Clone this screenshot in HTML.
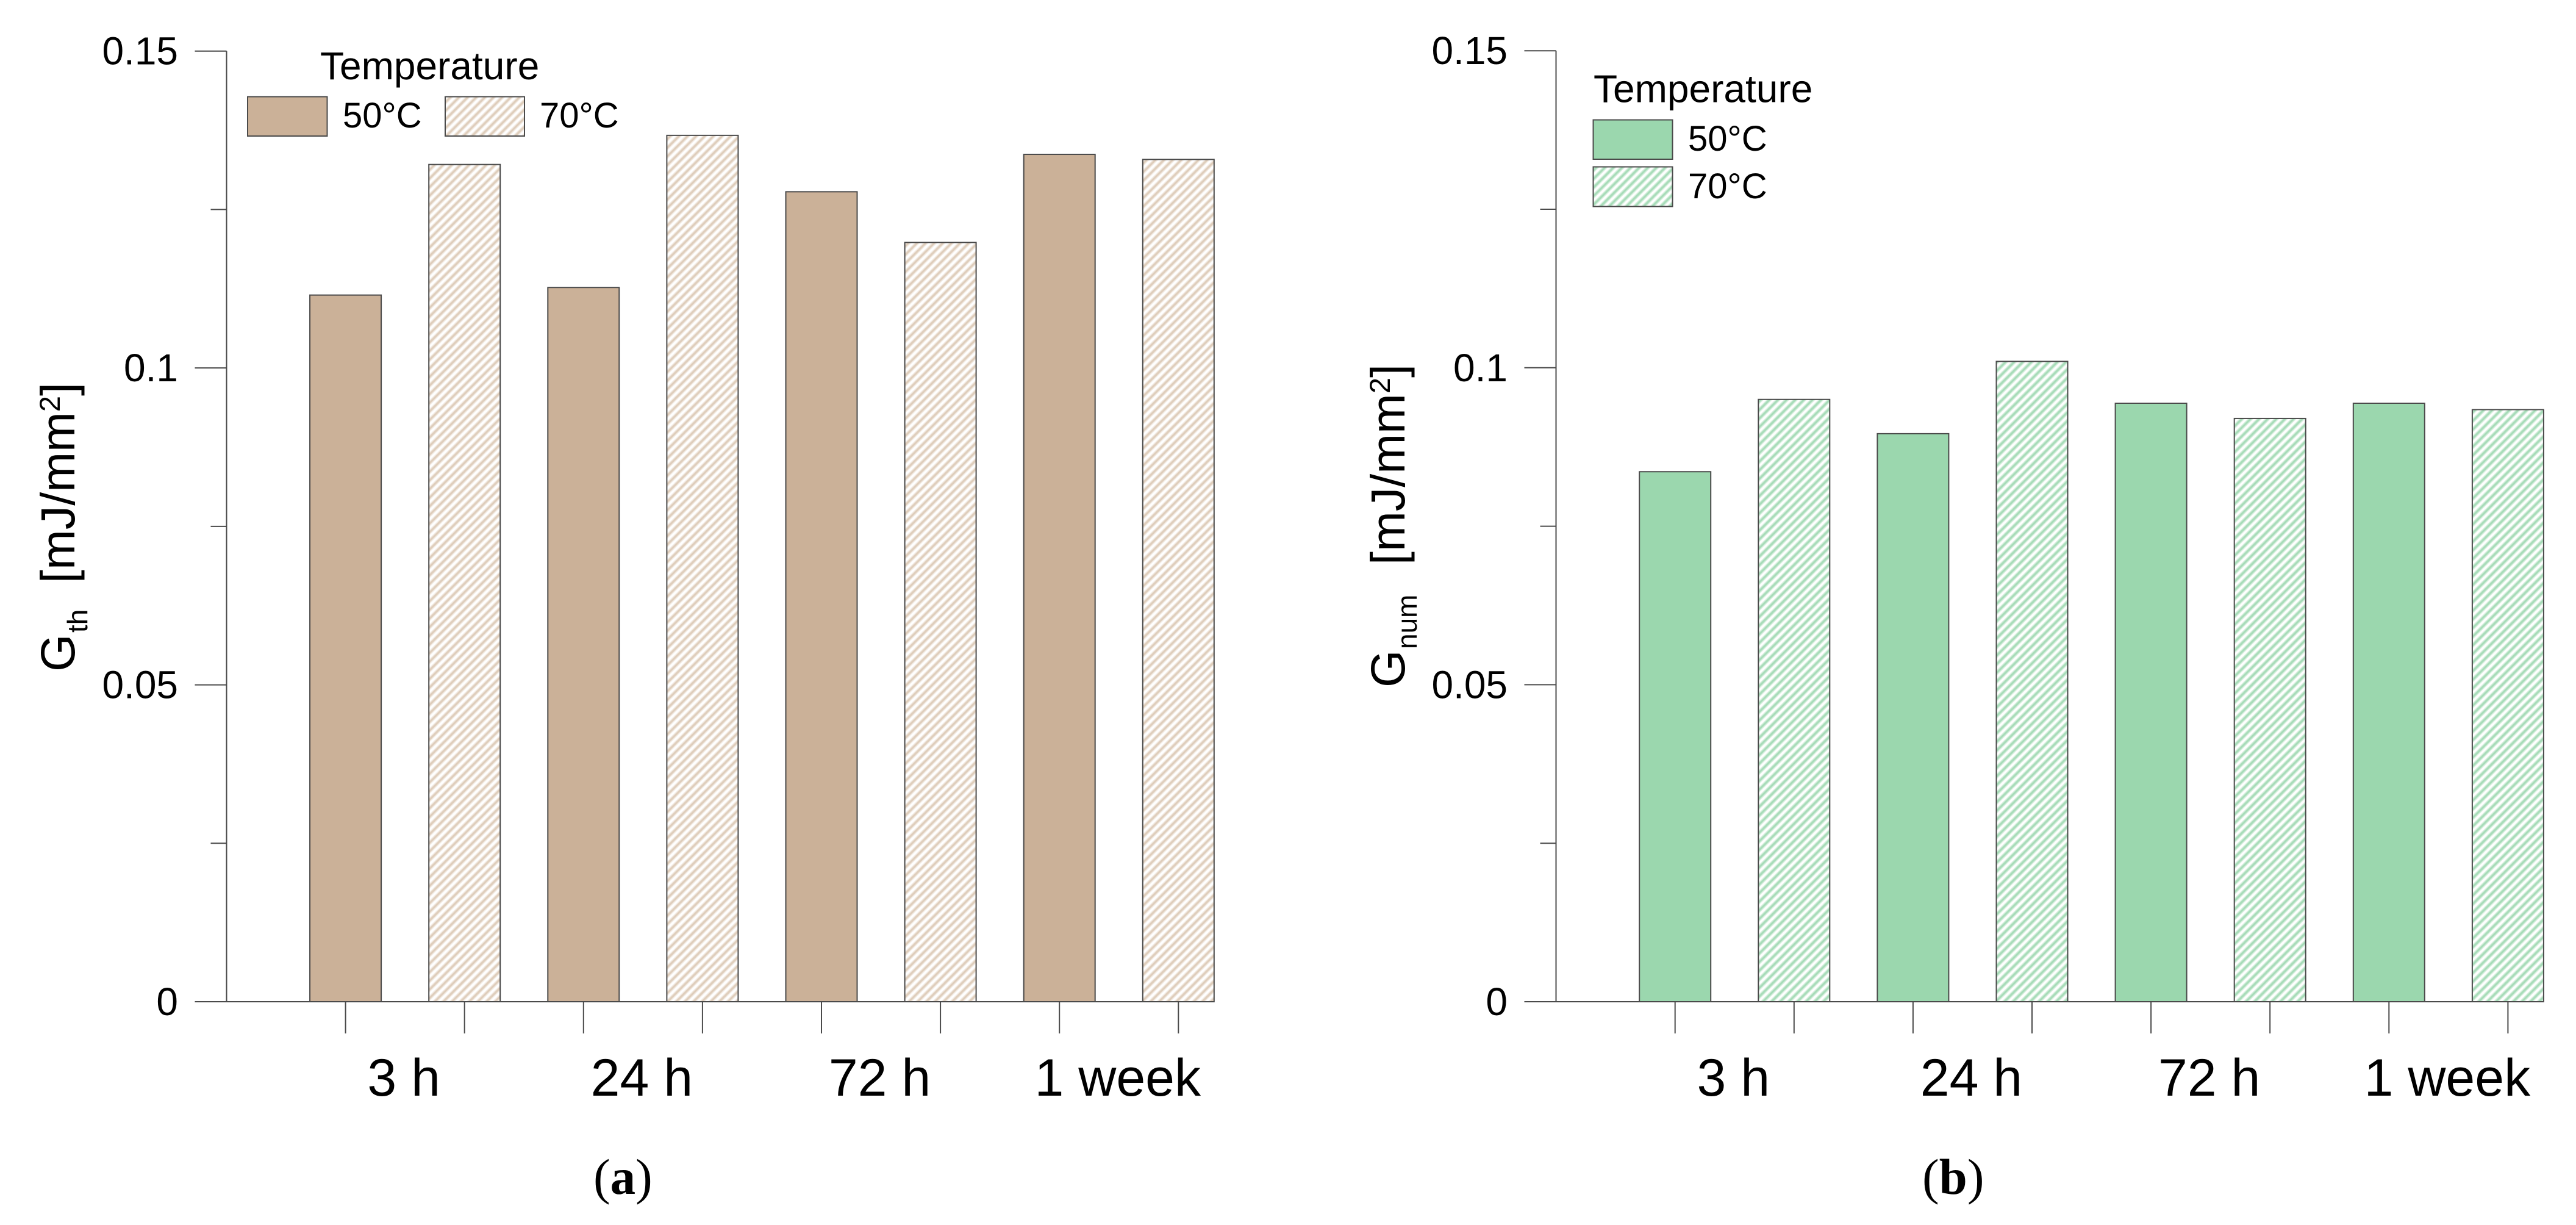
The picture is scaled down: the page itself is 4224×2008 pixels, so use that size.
<!DOCTYPE html>
<html lang="en">
<head>
<meta charset="utf-8">
<title>Fracture energy bar charts</title>
<style>
html,body{margin:0;padding:0;background:#fff;width:4224px;height:2008px;overflow:hidden}
svg{display:block}
text{font-family:"Liberation Sans",Arial,sans-serif;fill:#000}
.tick{font-size:64px}
.cat{font-size:86px}
.leg{font-size:64px}
.legval{font-size:58px}
.cap{font-family:"Liberation Serif","Times New Roman",serif;font-size:83px}
.ytitle{font-size:79px}
.ysub{font-size:46px}
</style>
</head>
<body>
<svg id="figure" xmlns="http://www.w3.org/2000/svg" width="4224" height="2008" viewBox="0 0 4224 2008">
  <defs>
    <pattern id="hatch-tan" patternUnits="userSpaceOnUse" width="10" height="10" patternTransform="rotate(-45)">
      <rect width="10" height="10" fill="#ffffff"/>
      <rect y="1.8" width="10" height="6.4" fill="#f2eae2"/>
      <rect y="3.4" width="10" height="3.2" fill="#dfcebc"/>
    </pattern>
    <pattern id="hatch-green" patternUnits="userSpaceOnUse" width="10" height="10" patternTransform="rotate(-45)">
      <rect width="10" height="10" fill="#ffffff"/>
      <rect y="1.8" width="10" height="6.4" fill="#d5efdd"/>
      <rect y="3.4" width="10" height="3.2" fill="#a8dcb9"/>
    </pattern>
  </defs>

  <g id="panel-a">
    <text class="ytitle" transform="translate(122 1101) rotate(-90)">G</text>
    <text class="ysub" transform="translate(143 1037) rotate(-90)">th</text>
    <text class="ytitle" transform="translate(122 956) rotate(-90)">[mJ/mm<tspan font-size="47" dy="-24">2</tspan><tspan dy="24">]</tspan></text>
    <g>
      <text class="leg" x="525" y="130">Temperature</text>
      <rect x="406" y="158.5" width="130.5" height="64.5" fill="#cbb198" stroke="#4a4a4a" stroke-width="2"/>
      <text class="legval" x="562" y="209">50°C</text>
      <rect x="730" y="158.5" width="130" height="64.5" fill="url(#hatch-tan)" stroke="#4a4a4a" stroke-width="2"/>
      <text class="legval" x="885" y="209">70°C</text>
    </g>
    <text class="cap" x="973" y="1957">(<tspan font-weight="bold">a</tspan>)</text>
  </g>

  <g id="panel-b">
    <text class="ytitle" transform="translate(2303 1127) rotate(-90)">G</text>
    <text class="ysub" transform="translate(2323 1064) rotate(-90)">num</text>
    <text class="ytitle" transform="translate(2303 926) rotate(-90)">[mJ/mm<tspan font-size="47" dy="-24">2</tspan><tspan dy="24">]</tspan></text>
    <g>
      <text class="leg" x="2613" y="167.5">Temperature</text>
      <rect x="2612.5" y="196.5" width="130" height="64.5" fill="#9bd7ae" stroke="#4a4a4a" stroke-width="2"/>
      <text class="legval" x="2768" y="247">50°C</text>
      <rect x="2612.5" y="273.5" width="130" height="65" fill="url(#hatch-green)" stroke="#4a4a4a" stroke-width="2"/>
      <text class="legval" x="2768" y="325">70°C</text>
    </g>
    <text class="cap" x="3152" y="1957">(<tspan font-weight="bold">b</tspan>)</text>
  </g>
</svg>
<script>
var categories = ["3 h", "24 h", "72 h", "1 week"];
var gthFifty = [0.1115, 0.1127, 0.1278, 0.1337];
var gthSeventy = [0.1321, 0.1367, 0.1198, 0.1329];
var gnumFifty = [0.0836, 0.0896, 0.0944, 0.0944];
var gnumSeventy = [0.0950, 0.1010, 0.0920, 0.0934];
var majorTicks = [0, 0.05, 0.1, 0.15];
var majorTickLabels = ["0", "0.05", "0.1", "0.15"];
var minorTicks = [0.025, 0.075, 0.125];

var NS = "http://www.w3.org/2000/svg";
var AXIS_COLOR = "#4a4a4a";

function yScale(value, top) {
  var base = 1642;
  return base - (value / 0.15) * (base - top);
}
function xScale(originX, groupIndex, seriesIndex) {
  return originX + (groupIndex * 2 + seriesIndex) * 195.1;
}
function drawLine(parent, x1, y1, x2, y2) {
  var line = document.createElementNS(NS, "line");
  line.setAttribute("x1", x1);
  line.setAttribute("y1", y1);
  line.setAttribute("x2", x2);
  line.setAttribute("y2", y2);
  line.setAttribute("stroke", AXIS_COLOR);
  line.setAttribute("stroke-width", "2");
  parent.appendChild(line);
  return line;
}
function drawPanel(panelId, suffix, opts, fifty, seventy) {
  var panel = document.getElementById(panelId);
  var firstChild = panel.firstChild;
  var marks = document.createElementNS(NS, "g");
  
  
  panel.insertBefore(marks, firstChild);

  categories.forEach(function (cat, g) {
    [fifty, seventy].forEach(function (series, s) {
      var cx = xScale(opts.firstCenter, g, s);
      var y = yScale(series[g], opts.top);
      var bar = document.createElementNS(NS, "rect");
      
      
      bar.setAttribute("x", cx - 58.5);
      bar.setAttribute("y", y);
      bar.setAttribute("width", 117);
      bar.setAttribute("height", 1642 - y);
      bar.setAttribute("fill", s === 0 ? opts.fill : opts.hatch);
      bar.setAttribute("stroke", "#4a4a4a");
      bar.setAttribute("stroke-width", "2");
      marks.appendChild(bar);

      var tick = drawLine(marks, cx, 1642, cx, 1694);
      
      
    });
    var label = document.createElementNS(NS, "text");
    
    
    label.setAttribute("class", "cat");
    label.setAttribute("x", (xScale(opts.firstCenter, g, 0) + xScale(opts.firstCenter, g, 1)) / 2 - 2);
    label.setAttribute("y", 1796);
    label.setAttribute("text-anchor", "middle");
    label.textContent = cat;
    marks.appendChild(label);
  });

  var yAxis = drawLine(marks, opts.axisX, opts.top, opts.axisX, 1642);
  
  
  var xAxis = drawLine(marks, opts.axisX - 52, 1642, xScale(opts.firstCenter, 3, 1) + 58.5, 1642);
  
  

  majorTicks.forEach(function (v, i) {
    var y = yScale(v, opts.top);
    var t = drawLine(marks, opts.axisX - 52, y, opts.axisX, y);
    
    
    var label = document.createElementNS(NS, "text");
    
    
    label.setAttribute("class", "tick");
    label.setAttribute("x", opts.labelRight);
    label.setAttribute("y", y + 22);
    label.setAttribute("text-anchor", "end");
    label.textContent = majorTickLabels[i];
    marks.appendChild(label);
  });
  minorTicks.forEach(function (v, i) {
    var y = yScale(v, opts.top);
    var t = drawLine(marks, opts.axisX - 26, y, opts.axisX, y);
    
    
  });
}
drawPanel("panel-a", "a", { firstCenter: 566.6, axisX: 371.5, top: 83.7, labelRight: 292, fill: "#cbb198", hatch: "url(#hatch-tan)" }, gthFifty, gthSeventy);
drawPanel("panel-b", "b", { firstCenter: 2746.7, axisX: 2551.5, top: 83.2, labelRight: 2472, fill: "#9bd7ae", hatch: "url(#hatch-green)" }, gnumFifty, gnumSeventy);
</script>
</body>
</html>
